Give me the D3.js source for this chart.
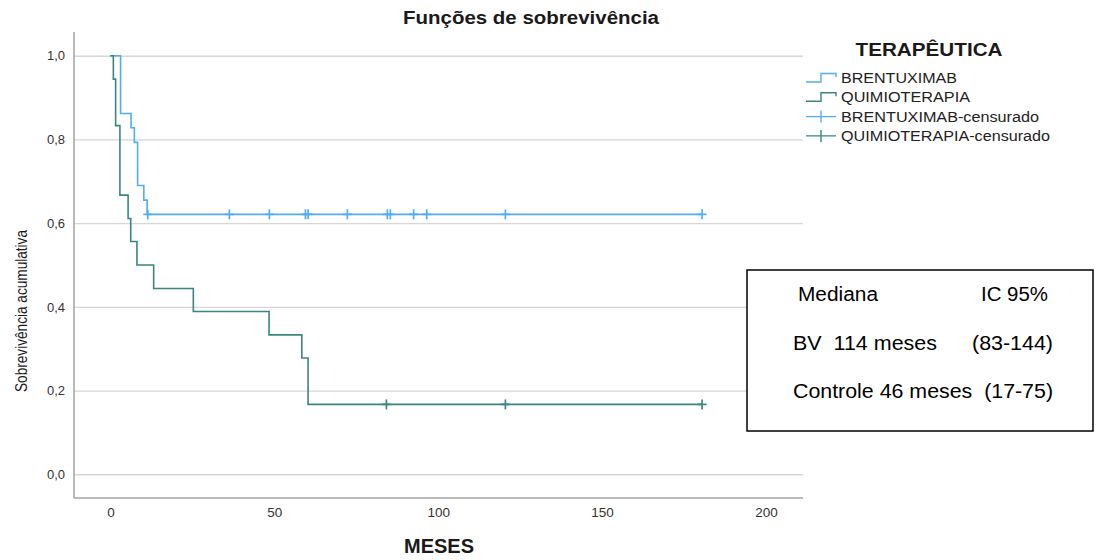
<!DOCTYPE html>
<html lang="pt">
<head>
    <meta charset="UTF-8">
    <title>Funções de sobrevivência</title>
    <style>
        body {
            margin: 0;
            padding: 0;
            background: #ffffff;
        }

        svg text {
            font-family: "Liberation Sans", Arial, sans-serif;
            white-space: pre;
        }
    </style>
</head>
<body>
<svg id="chart" width="1101" height="560"></svg>

<script src="https://cdnjs.cloudflare.com/ajax/libs/d3/7.8.5/d3.min.js"></script>
<script>
    // data
    var xTicks = [0, 50, 100, 150, 200];
    var yTicks = [0, 0.2, 0.4, 0.6, 0.8, 1.0];

    var groups = ["BRENTUXIMAB", "QUIMIOTERAPIA"];
    var legendLabels = ["BRENTUXIMAB", "QUIMIOTERAPIA", "BRENTUXIMAB-censurado", "QUIMIOTERAPIA-censurado"];

    var brentTimes = [0, 3.1, 6.3, 7.3, 8.3, 10.2, 11.2, 180.5];
    var brentSurv = [1.0, 0.862, 0.828, 0.793, 0.690, 0.655, 0.621, 0.621];
    var brentCensored = [11.4, 36.3, 48.5, 59.5, 60.3, 72.3, 84.5, 85.4, 92.5, 96.5, 120.5, 180.5];

    var quimioTimes = [0, 0.9, 1.6, 2.9, 5.4, 6.2, 8.1, 13.2, 25.3, 48.4, 58.4, 60.3, 180.5];
    var quimioSurv = [1.0, 0.944, 0.833, 0.667, 0.611, 0.556, 0.5, 0.444, 0.389, 0.333, 0.278, 0.167, 0.167];
    var quimioCensored = [84.2, 120.5, 180.5];

    var boxRows = [
        ["Mediana", "IC 95%"],
        ["BV  114 meses", "(83-144)"],
        ["Controle 46 meses  (17-75)"]
    ];

    var colors = {"BRENTUXIMAB": "#52adef", "QUIMIOTERAPIA": "#3b8580"};

    // plot frame
    var frame = {left: 74, right: 803, top: 32, bottom: 498};

    var svg = d3.select("#chart");

    var x = d3.scaleLinear().domain([0, 200]).range([110.4, 766]);
    var y = d3.scaleLinear().domain([0, 1]).range([474.3, 55.7]);

    // y axis with gridlines
    var yAxis = svg.append("g")
        .attr("transform", "translate(" + frame.left + ",0)")
        .call(d3.axisLeft(y)
            .tickValues(yTicks)
            .tickSize(-(frame.right - frame.left))
            .tickPadding(9)
            .tickFormat(function (d) { return d3.format(".1f")(d).replace(".", ","); }));
    yAxis.select(".domain").remove();
    yAxis.selectAll(".tick line")
        .attr("stroke", "#d6d6d6")
        .attr("stroke-width", 1.4);
    yAxis.selectAll(".tick text")
        .attr("fill", "#333")
        .style("font-size", "13px");

    // x axis
    var xAxis = svg.append("g")
        .attr("transform", "translate(0," + frame.bottom + ")")
        .call(d3.axisBottom(x).tickValues(xTicks).tickSize(0).tickPadding(9));
    xAxis.select(".domain").remove();
    xAxis.selectAll(".tick text")
        .attr("fill", "#333")
        .style("font-size", "13.5px");

    // axis lines
    svg.append("line")
        .attr("x1", frame.left).attr("x2", frame.left)
        .attr("y1", frame.top).attr("y2", frame.bottom)
        .attr("stroke", "#a3a3a3").attr("stroke-width", 1.5);
    svg.append("line")
        .attr("x1", frame.left).attr("x2", frame.right)
        .attr("y1", frame.bottom).attr("y2", frame.bottom)
        .attr("stroke", "#a3a3a3").attr("stroke-width", 1.5);

    // survival curves
    var step = d3.line()
        .x(function (d) { return x(d[0]); })
        .y(function (d) { return y(d[1]); })
        .curve(d3.curveStepAfter);

    var series = [
        {name: "BRENTUXIMAB", times: brentTimes, surv: brentSurv, cens: brentCensored},
        {name: "QUIMIOTERAPIA", times: quimioTimes, surv: quimioSurv, cens: quimioCensored}
    ];

    function survAt(s, t) {
        var i = d3.bisectRight(s.times, t) - 1;
        return s.surv[Math.max(i, 0)];
    }

    series.forEach(function (s) {
        svg.append("path")
            .datum(d3.zip(s.times, s.surv))
            .attr("d", step)
            .attr("fill", "none")
            .attr("stroke", colors[s.name])
            .attr("stroke-width", 1.6);

        var marks = svg.append("g").attr("stroke", colors[s.name]).attr("stroke-width", 1.7);
        s.cens.forEach(function (t) {
            var cx = x(t), cy = y(survAt(s, t));
            marks.append("line").attr("x1", cx - 4.5).attr("x2", cx + 4.5).attr("y1", cy).attr("y2", cy);
            marks.append("line").attr("x1", cx).attr("x2", cx).attr("y1", cy - 5).attr("y2", cy + 5);
        });
    });

    // titles
    svg.append("text")
        .attr("x", 531).attr("y", 24)
        .attr("text-anchor", "middle")
        .attr("textLength", 256).attr("lengthAdjust", "spacingAndGlyphs")
        .style("font-size", "18px").style("font-weight", "bold")
        .attr("fill", "#1a1a1a")
        .text("Funções de sobrevivência");

    svg.append("text")
        .attr("x", 439).attr("y", 553)
        .attr("text-anchor", "middle")
        .attr("textLength", 70).attr("lengthAdjust", "spacingAndGlyphs")
        .style("font-size", "19.5px").style("font-weight", "bold")
        .attr("fill", "#1a1a1a")
        .text("MESES");

    svg.append("text")
        .attr("transform", "translate(27,311) rotate(-90)")
        .attr("text-anchor", "middle")
        .attr("textLength", 162).attr("lengthAdjust", "spacingAndGlyphs")
        .style("font-size", "17px")
        .attr("fill", "#1a1a1a")
        .text("Sobrevivência acumulativa");

    // legend
    svg.append("text")
        .attr("x", 929).attr("y", 56)
        .attr("text-anchor", "middle")
        .attr("textLength", 147).attr("lengthAdjust", "spacingAndGlyphs")
        .style("font-size", "18px").style("font-weight", "bold")
        .attr("fill", "#1a1a1a")
        .text("TERAPÊUTICA");

    var legendWidths = [116, 129, 198, 209];
    legendLabels.forEach(function (label, i) {
        var b = 83 + i * 19.3;
        var c = colors[groups[i % 2]];
        if (i < 2) {
            svg.append("path")
                .attr("d", "M806," + (b - 1) + "H821V" + (b - 9.5) + "H836V" + (b - 6))
                .attr("fill", "none").attr("stroke", c).attr("stroke-width", 1.4);
        } else {
            svg.append("path")
                .attr("d", "M806," + (b - 5) + "H836M821," + (b - 11) + "V" + (b + 1))
                .attr("fill", "none").attr("stroke", c).attr("stroke-width", 1.4);
        }
        svg.append("text")
            .attr("x", 841).attr("y", b)
            .attr("textLength", legendWidths[i]).attr("lengthAdjust", "spacingAndGlyphs")
            .style("font-size", "14px")
            .attr("fill", "#222")
            .text(label);
    });

    // annotation box
    svg.append("rect")
        .attr("x", 747).attr("y", 270)
        .attr("width", 346).attr("height", 161)
        .attr("fill", "#fff")
        .attr("stroke", "#000")
        .attr("stroke-width", 1.5);

    var boxPos = [
        [[798, 80], [981, 67]],
        [[793, 144], [972, 81]],
        [[793, 260]]
    ];
    var boxBase = [301, 350, 398];
    boxRows.forEach(function (row, r) {
        row.forEach(function (t, k) {
            svg.append("text")
                .attr("x", boxPos[r][k][0]).attr("y", boxBase[r])
                .attr("textLength", boxPos[r][k][1]).attr("lengthAdjust", "spacingAndGlyphs")
                .style("font-size", "20px")
                .attr("fill", "#000")
                .text(t);
        });
    });
</script>
</body>
</html>
